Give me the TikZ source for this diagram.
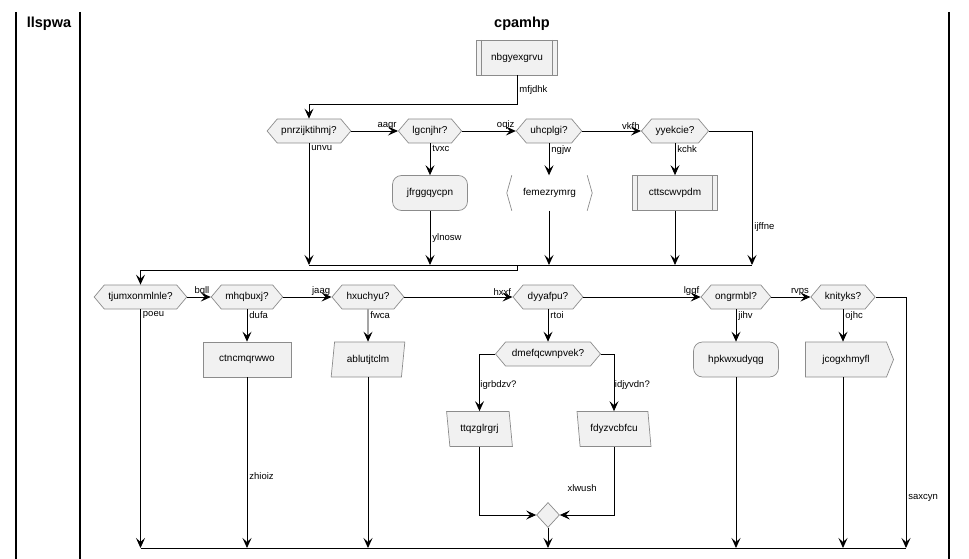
\documentclass[tikz,border=0pt]{standalone}
\usepackage{fontspec}
\setmainfont{Liberation Sans}
\usetikzlibrary{arrows.meta,shapes.geometric,shapes.symbols}
\definecolor{actfill}{HTML}{F1F1F1}
\definecolor{actline}{HTML}{8C8C8C}

\begin{document}
\begin{tikzpicture}[
  x=1pt,y=-1pt,
  font=\fontsize{10}{12}\selectfont,
  base/.style={draw=actline,fill=actfill,line width=0.7pt,inner sep=0pt},
  hexa/.style={base,signal,signal to=east and west,signal pointer angle=100,minimum height=24pt,inner xsep=4pt},
  act/.style={base,rectangle,minimum height=35pt,inner xsep=8pt},
  rbox/.style={act,rounded corners=9pt},
  subbox/.style={act,path picture={\draw[actline,line width=0.7pt]
    ([xshift=5pt]path picture bounding box.north west) -- ([xshift=5pt]path picture bounding box.south west)
    ([xshift=-5pt]path picture bounding box.north east) -- ([xshift=-5pt]path picture bounding box.south east);}},
  para/.style={base,trapezium,trapezium stretches=true,trapezium left angle=77,trapezium right angle=103,
    minimum height=35pt,minimum width=74pt},
  rpara/.style={para,trapezium left angle=103,trapezium right angle=77},
  flag/.style={base,signal,signal to=east,signal pointer angle=136,minimum height=35pt,inner xsep=4pt},
  merge/.style={base,diamond,minimum width=23pt,minimum height=25pt},
  flow/.style={-{Stealth[length=10pt,width=9pt,inset=4pt]},line width=0.9pt},
  line/.style={line width=0.9pt},
  lbl/.style={font=\fontsize{9.5}{11}\selectfont,inner sep=2pt},
  lane/.style={line width=1.4pt},
  title/.style={font=\fontsize{14.5}{16}\selectfont\bfseries}
]
\useasboundingbox (0,0) rectangle (969,559);

% swimlanes
\draw[lane] (16,12) -- (16,559);
\draw[lane] (80,12) -- (80,559);
\draw[lane] (949,12) -- (949,559);
\node[title] (lane1) at (49,24) {llspwa};
\node[title] (lane2) at (522,24) {cpamhp};

% first block
\node[subbox,minimum width=81pt] (t0) at (517,57.5) {nbgyexgrvu};
\node[hexa,minimum width=82pt] (q1) at (309,131) {pnrzijktihmj?};
\node[hexa,minimum width=63pt] (q2) at (430,131) {lgcnjhr?};
\node[hexa,minimum width=65pt] (q3) at (549,131) {uhcplgi?};
\node[hexa,minimum width=66pt] (q4) at (675,131) {yyekcie?};
\node[rbox,minimum width=75pt] (a2) at (430,193) {jfrggqycpn};
\node[inner xsep=0pt,minimum width=85pt,minimum height=35pt] (a3) at (549.5,193) {femezrymrg};
\draw[actline,line width=0.7pt] ([xshift=5pt]a3.north west) -- (a3.west) -- ([xshift=5pt]a3.south west)
  ([xshift=-5pt]a3.north east) -- (a3.east) -- ([xshift=-5pt]a3.south east);
\node[subbox,minimum width=85pt] (a4) at (675,193) {cttscwvpdm};

\coordinate (t0b) at (517,104);
\coordinate (bar1w) at (309,265);
\coordinate (bar1e) at (752,265);
\coordinate (bar1m) at (517,265);
\coordinate (bar1d) at (517,270);

\draw[flow] (t0.south) -- node[lbl,midway,right]{mfjdhk} (t0b) -| (q1.north);
\draw[flow] (q1.east) -- node[lbl,pos=1,above left,inner sep=1pt]{aagr} (q2.west);
\draw[flow] (q2.east) -- node[lbl,pos=1,above left,inner sep=1pt]{oqiz} (q3.west);
\draw[flow] (q3.east) -- node[lbl,pos=1,above left,inner sep=1pt]{vkfh} (q4.west);
\draw[flow] (q1.south) -- node[lbl,pos=0,below right]{unvu} (q1.south |- bar1w);
\draw[flow] (q2.south) -- node[lbl,pos=0,below right]{tvxc} (a2.north);
\draw[flow] (q3.south) -- node[lbl,pos=0,below right]{ngjw} (q3.south |- a3.north);
\draw[flow] (q4.south) -- node[lbl,pos=0,below right]{kchk} (a4.north);
\draw[flow] (a2.south) -- node[lbl,midway,right]{ylnosw} (a2.south |- bar1w);
\draw[flow] (q3.south |- a3.south) -- (q3.south |- bar1w);
\draw[flow] (a4.south) -- (a4.south |- bar1w);
\draw[flow] (q4.east) -| node[lbl,pos=0.86,right]{ijffne} (bar1e);
\draw[line] (bar1w) -- (bar1e);

% second block
\node[hexa,minimum width=92pt] (r1) at (140.5,297) {tjumxonmlnle?};
\node[hexa,minimum width=69pt] (r2) at (247,297) {mhqbuxj?};
\node[hexa,minimum width=72pt] (r3) at (368,297) {hxuchyu?};
\node[hexa,minimum width=70pt] (r4) at (548,297) {dyyafpu?};
\node[hexa,minimum width=68pt] (r5) at (736,297) {ongrmbl?};
\node[hexa,minimum width=63pt] (r6) at (843,297) {knityks?};
\node[act,minimum width=88pt] (b2) at (247,359.5) {ctncmqrwwo};
\node[para] (b3) at (368,359.5) {ablutjtclm};
\node[hexa,minimum width=105pt] (d1) at (548,354) {dmefqcwnpvek?};
\node[rpara,minimum width=66pt] (c1) at (479.5,429) {ttqzglrgrj};
\node[rpara] (c2) at (614,429) {fdyzvcbfcu};
\node[merge] (m) at (548,515) {};
\node[rbox,minimum width=85pt] (b5) at (736,359.5) {hpkwxudyqg};
\node[flag,minimum width=88pt] (b6) at (846,359.5) {jcogxhmyfl};

\coordinate (bar2w) at (140.5,548);
\coordinate (bar2e) at (906,548);

\draw[flow] (bar1m) -- (bar1d) -| (r1.north);
\draw[flow] (r1.east) -- node[lbl,pos=1,above left,inner sep=1pt]{bqll} (r2.west);
\draw[flow] (r2.east) -- node[lbl,pos=1,above left,inner sep=1pt]{jaag} (r3.west);
\draw[flow] (r3.east) -- node[lbl,pos=1,above left,inner sep=1pt]{hxxf} (r4.west);
\draw[flow] (r4.east) -- node[lbl,pos=1,above left,inner sep=1pt]{lggf} (r5.west);
\draw[flow] (r5.east) -- node[lbl,pos=1,above left,inner sep=1pt]{rvps} (r6.west);
\draw[flow] (r1.south) -- node[lbl,pos=0,below right]{poeu} (bar2w);
\draw[flow] (r2.south) -- node[lbl,pos=0,below right]{dufa} (b2.north);
\draw[flow] (r3.south) -- node[lbl,pos=0,below right]{fwca} (b3.north);
\draw[flow] (r4.south) -- node[lbl,pos=0,below right]{rtoi} (d1.north);
\draw[flow] (r5.south) -- node[lbl,pos=0,below right]{jihv} (b5.north);
\draw[flow] (r6.south) -- node[lbl,pos=0,below right]{ojhc} (r6.south |- b6.north);
\draw[flow] (d1.west) -| node[lbl,pos=0.77,right,inner sep=0.5pt]{igrbdzv?} (c1.north);
\draw[flow] (d1.east) -| node[lbl,pos=0.77,right,inner sep=0.5pt]{idjyvdn?} (c2.north);
\draw[flow] (c1.south) |- (m.west);
\draw[flow] (c2.south) |- node[lbl,pos=0.3,left=15pt]{xlwush} (m.east);
\draw[flow] (b2.south) -- node[lbl,pos=0.58,right]{zhioiz} (b2.south |- bar2w);
\draw[flow] (b3.south) -- (b3.south |- bar2w);
\draw[flow] (m.south) -- (m.south |- bar2w);
\draw[flow] (b5.south) -- (b5.south |- bar2w);
\draw[flow] (r6.south |- b6.south) -- (r6.south |- bar2w);
\draw[flow] (r6.east) -| node[lbl,pos=0.9,right]{saxcyn} (bar2e);
\draw[line] (bar2w) -- (bar2e);
\end{tikzpicture}
\end{document}
